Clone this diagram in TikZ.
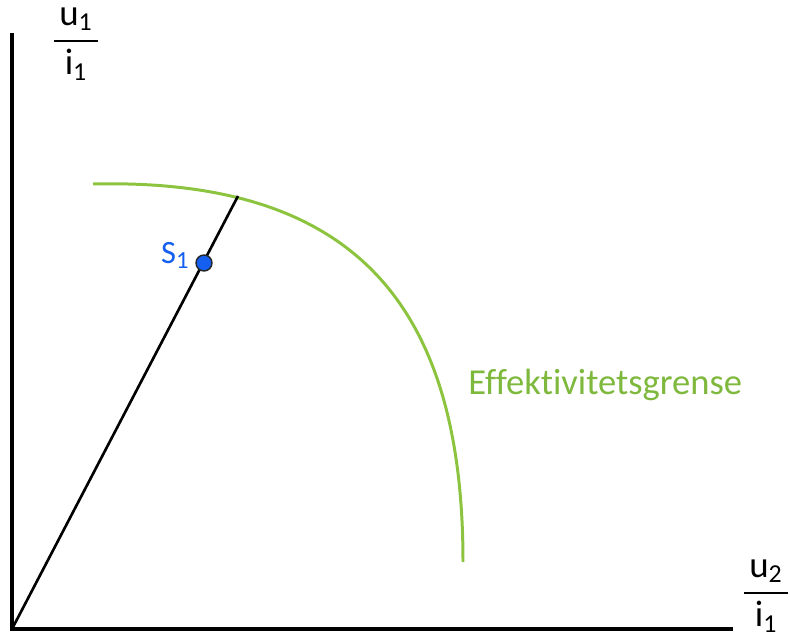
\documentclass[tikz,border=0pt]{standalone}
\usepackage{amsmath}
\usepackage{fontspec}
\setmainfont[Ligatures=NoCommon]{Carlito}
\definecolor{effgreen}{RGB}{141,196,63}
\definecolor{efftext}{RGB}{126,184,60}
\definecolor{ptblue}{RGB}{20,95,240}

\begin{document}
\begin{tikzpicture}[x=0.2mm,y=-0.2mm,line width=1.6pt,
 ax/.style={line width=2pt},
 front/.style={draw=effgreen,line width=1.7pt},
 frac/.style={inner sep=0pt,font=\fontsize{21}{24}\selectfont},
 lab/.style={inner sep=0pt,font=\fontsize{20.8}{24}\selectfont},
 dot/.style={circle,draw=black!85,fill=ptblue,line width=0.8pt,minimum size=3.2mm,inner sep=0pt}]
\useasboundingbox (0,0) rectangle (790,637);
% axes
\coordinate (o) at (12,629);
\coordinate (ytop) at (12,33);
\coordinate (xend) at (733,629);
\draw[ax] (ytop) -- (o) -- (xend);
\node[frac] (ylab) at (76,44) {$\dfrac{\hspace{3pt}\text{u}_{\text{1}}\hspace{3pt}}{\text{i}_{\text{1}}}$};
\node[frac] (xlab) at (766,596) {$\dfrac{\hspace{3pt}\text{u}_{\text{2}}\hspace{3pt}}{\text{i}_{\text{1}}}$};
% efficiency frontier
\coordinate (fs) at (93,184);
\coordinate (fe) at (463,562);
\draw[front] (fs) .. controls (350,178) and (463,300) .. (fe);
\node[lab,text=efftext,anchor=base west] (eff) at (467,394) {Effektivitetsgrense};
% ray through S1
\coordinate (top) at (238,196);
\draw[line width=1.5pt] (o) -- (top);
\node[dot] (s1) at (204,263) {};
\node[lab,text=ptblue,anchor=base east,font=\fontsize{18.5}{20}\selectfont] (s1lab) at (190,263) {S\raisebox{-0.35ex}{\fontsize{14}{15}\selectfont 1}};
\end{tikzpicture}
\end{document}
